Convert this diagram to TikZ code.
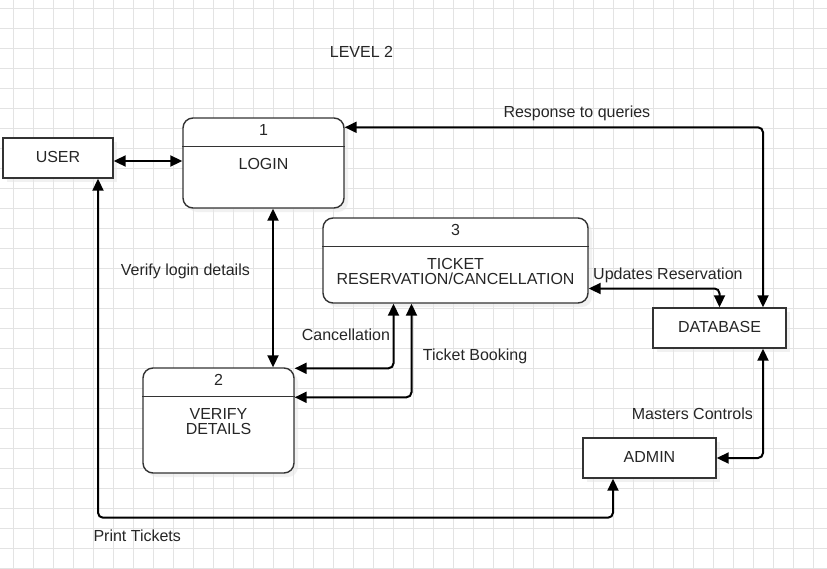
\documentclass[tikz,border=0pt]{standalone}
\usepackage{fontspec}
\setmainfont{Liberation Sans}
\usetikzlibrary{arrows.meta,shadows}

\tikzset{
  boxshadow/.style={drop shadow={shadow xshift=4pt,shadow yshift=-4pt,fill=black!10}},
  ext/.style={draw=black!80,line width=1.4pt,fill=white,minimum height=40pt,
    text height=11.5pt,text depth=3.5pt,text=black!85,boxshadow},
  proc/.style={draw=black!80,line width=1.4pt,fill=white,rounded corners=10pt,boxshadow},
  divide/.style={draw=black!80,line width=1.4pt},
  flow/.style={line width=2pt,rounded corners=5pt,
    {Triangle[length=12pt,width=11pt]}-{Triangle[length=12pt,width=11pt]}},
  lbl/.style={inner sep=0pt,text=black!85},
  gridline/.style={draw=black!11,line width=0.8pt},
}

\begin{document}
\begin{tikzpicture}[x=1pt,y=-1pt,font=\fontsize{16pt}{15.5pt}\selectfont]
  \fill[white] (0,0) rectangle (827,568);
  \useasboundingbox (0,0) rectangle (827,568);
  % grid
  \foreach \gx in {13,33,...,813} \draw[gridline] (\gx,0) -- (\gx,568);
  \foreach \gy in {8,28,...,568} \draw[gridline] (0,\gy) -- (827,\gy);

  \node[lbl,anchor=base] (title) at (361.5,57.3) {LEVEL 2};

  % external entities
  \node[ext,minimum width=110pt] (user) at (58,158) {USER};
  \node[ext,minimum width=133pt] (db) at (719.5,328) {DATABASE};
  \node[ext,minimum width=133pt] (admin) at (649.5,458) {ADMIN};

  % processes
  \node[proc,minimum width=161pt,minimum height=90pt] (P1) at (263.5,163) {};
  \draw[divide] ([yshift=-29pt]P1.north west) -- ([yshift=-29pt]P1.north east);
  \node[lbl,anchor=base] (P1num) at ([yshift=-18pt]P1.north) {1};
  \node[lbl,anchor=north] (P1name) at ([yshift=-40.5pt]P1.north) {LOGIN};

  \node[proc,minimum width=265pt,minimum height=85pt] (P3) at (455.5,260.5) {};
  \draw[divide] ([yshift=-29pt]P3.north west) -- ([yshift=-29pt]P3.north east);
  \node[lbl,anchor=base] (P3num) at ([yshift=-18.5pt]P3.north) {3};
  \node[lbl,anchor=north,align=center] (P3name) at ([yshift=-40.5pt]P3.north) {TICKET\\RESERVATION/CANCELLATION};

  \node[proc,minimum width=151pt,minimum height=105pt] (P2) at (218.5,420.5) {};
  \draw[divide] ([yshift=-29pt]P2.north west) -- ([yshift=-29pt]P2.north east);
  \node[lbl,anchor=base] (P2num) at ([yshift=-18.5pt]P2.north) {2};
  \node[lbl,anchor=north,align=center] (P2name) at ([yshift=-40.5pt]P2.north) {VERIFY\\DETAILS};

  % data flows
  \draw[flow] ([yshift=-3pt]user.east) -- ([yshift=-3pt]user.east -| P1.west);
  \draw[flow] ([xshift=9.5pt]P1.south) -- ([xshift=9.5pt]P1.south |- P2.north);
  \draw[flow] ([yshift=-10pt]P1.north east) -| ([xshift=43.5pt]db.north);
  \draw[flow] ([yshift=-28pt]P3.east) -| (db.north);
  \draw[flow] ([xshift=43.5pt]db.south) |- (admin.east);
  \draw[flow] ([xshift=-62pt]P3.south) |- ([yshift=-1pt]P2.north east);
  \draw[flow] ([xshift=-44pt]P3.south) |- ([yshift=-30pt]P2.north east);
  \draw[flow] ([xshift=40pt]user.south) |- ([xshift=-36.5pt,yshift=-39pt]admin.south)
    -- ([xshift=-36.5pt]admin.south);

  % flow labels
  \node[lbl,anchor=base west] (resp) at (503.3,117.3) {Response to queries};
  \node[lbl,anchor=base west] (verify) at (120.7,275) {Verify login details};
  \node[lbl,anchor=base west] (upd) at (593,279.3) {Updates Reservation};
  \node[lbl,anchor=base west] (cancel) at (301.7,340) {Cancellation};
  \node[lbl,anchor=base west] (book) at (422.7,360) {Ticket Booking};
  \node[lbl,anchor=base west] (master) at (631.7,419.3) {Masters Controls};
  \node[lbl,anchor=base west] (print) at (93.3,541) {Print Tickets};
\end{tikzpicture}
\end{document}
